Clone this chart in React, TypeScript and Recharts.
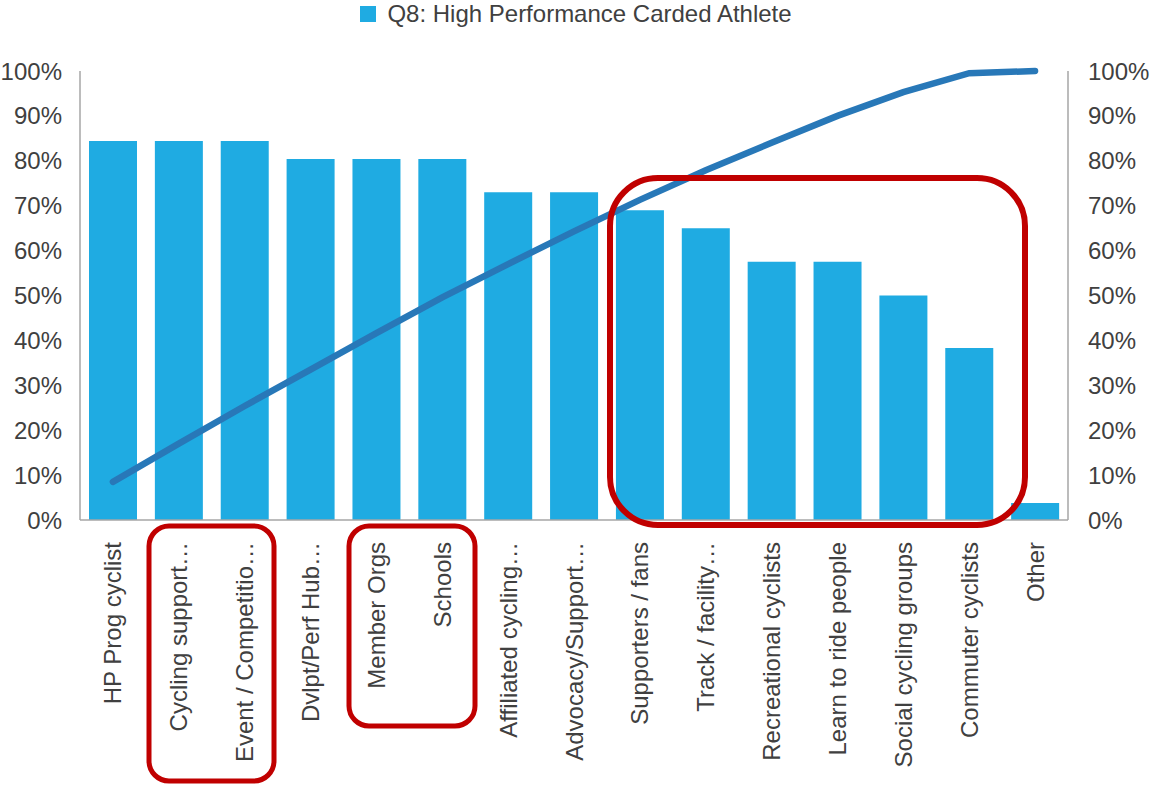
import { ComposedChart, Bar, Line, XAxis, YAxis, Legend } from 'recharts'

const FONT = "'Liberation Sans', Arial, sans-serif"
const BAR_COLOR = '#1FABE2'
const LINE_COLOR = '#2878B8'
const TEXT_COLOR = '#404040'
const AXIS_COLOR = '#A6A6A6'
const NOTE_COLOR = '#C00000'

const categories = [
  'HP Prog cyclist',
  'Cycling support…',
  'Event / Competitio…',
  'Dvlpt/Perf Hub…',
  'Member Orgs',
  'Schools',
  'Affiliated cycling…',
  'Advocacy/Support…',
  'Supporters / fans',
  'Track / facility…',
  'Recreational cyclists',
  'Learn to ride people',
  'Social cycling groups',
  'Commuter cyclists',
  'Other',
]

// share of respondents (%)
const shares = [84.4, 84.4, 84.4, 80.4, 80.4, 80.4, 73, 73, 69, 65, 57.5, 57.5, 50, 38.3, 3.8]

// cumulative line (%)
const cumulative = [8.5, 17.0, 25.4, 33.5, 41.6, 49.6, 57.0, 64.3, 71.3, 77.9, 84.0, 90.0, 95.3, 99.5, 100]

const percentTicks = [0, 10, 20, 30, 40, 50, 60, 70, 80, 90, 100]

const data = categories.map((name, i) => ({
  name,
  share: shares[i],
  cumulative: cumulative[i],
}))

const tickStyle = { fill: TEXT_COLOR, fontSize: 24, fontFamily: FONT }

function CategoryTick({ x, y, payload }: any) {
  return (
    <text
      transform={`translate(${x},${y + 20}) rotate(-90)`}
      textAnchor="end"
      dominantBaseline="central"
      fill={TEXT_COLOR}
      fontSize={24}
      fontFamily={FONT}
    >
      {payload.value}
    </text>
  )
}

function LegendContent() {
  return (
    <div
      style={{
        display: 'flex',
        justifyContent: 'center',
        alignItems: 'center',
        height: 28,
        fontFamily: FONT,
        fontSize: 24,
        color: TEXT_COLOR,
      }}
    >
      <span style={{ width: 16, height: 16, background: BAR_COLOR, marginRight: 11 }} />
      Q8: High Performance Carded Athlete
    </div>
  )
}

export default function App() {
  return (
    <div style={{ position: 'relative', width: 1152, height: 785 }}>
      <style>{'body{margin:0}'}</style>
      <ComposedChart
        width={1152}
        height={785}
        data={data}
        margin={{ top: 43, right: 0, bottom: 0, left: 0 }}
      >
        <Legend verticalAlign="top" content={<LegendContent />} wrapperStyle={{ top: 0 }} />
        <XAxis
          dataKey="name"
          height={265}
          interval={0}
          tickLine={false}
          tickSize={0}
          axisLine={{ stroke: AXIS_COLOR, strokeWidth: 1.5 }}
          tick={<CategoryTick />}
        />
        <YAxis
          yAxisId="left"
          width={80}
          domain={[0, 100]}
          ticks={percentTicks}
          tickFormatter={(v) => `${v}%`}
          tick={tickStyle}
          tickLine={false}
          tickSize={0}
          tickMargin={18}
          axisLine={{ stroke: AXIS_COLOR, strokeWidth: 1.5 }}
        />
        <YAxis
          yAxisId="right"
          orientation="right"
          width={84}
          domain={[0, 100]}
          ticks={percentTicks}
          tickFormatter={(v) => `${v}%`}
          tick={{ ...tickStyle, textAnchor: 'start' }}
          tickLine={false}
          tickSize={0}
          tickMargin={20}
          axisLine={{ stroke: AXIS_COLOR, strokeWidth: 1.5 }}
        />
        <Bar
          yAxisId="left"
          dataKey="share"
          fill={BAR_COLOR}
          barSize={48}
          isAnimationActive={false}
        />
        <Line
          yAxisId="right"
          type="linear"
          dataKey="cumulative"
          stroke={LINE_COLOR}
          strokeWidth={6.5}
          strokeLinecap="round"
          dot={false}
          activeDot={false}
          isAnimationActive={false}
        />
      </ComposedChart>
      {/* red call-out boxes drawn on top of the chart */}
      <svg
        width={1152}
        height={785}
        style={{ position: 'absolute', left: 0, top: 0, pointerEvents: 'none' }}
      >
        <rect x={610} y={178} width={415} height={347} rx={48} fill="none" stroke={NOTE_COLOR} strokeWidth={6} />
        <rect x={149} y={526} width={125} height={255} rx={20} fill="none" stroke={NOTE_COLOR} strokeWidth={5} />
        <rect x={349} y={526} width={126} height={200} rx={20} fill="none" stroke={NOTE_COLOR} strokeWidth={5} />
      </svg>
    </div>
  )
}
